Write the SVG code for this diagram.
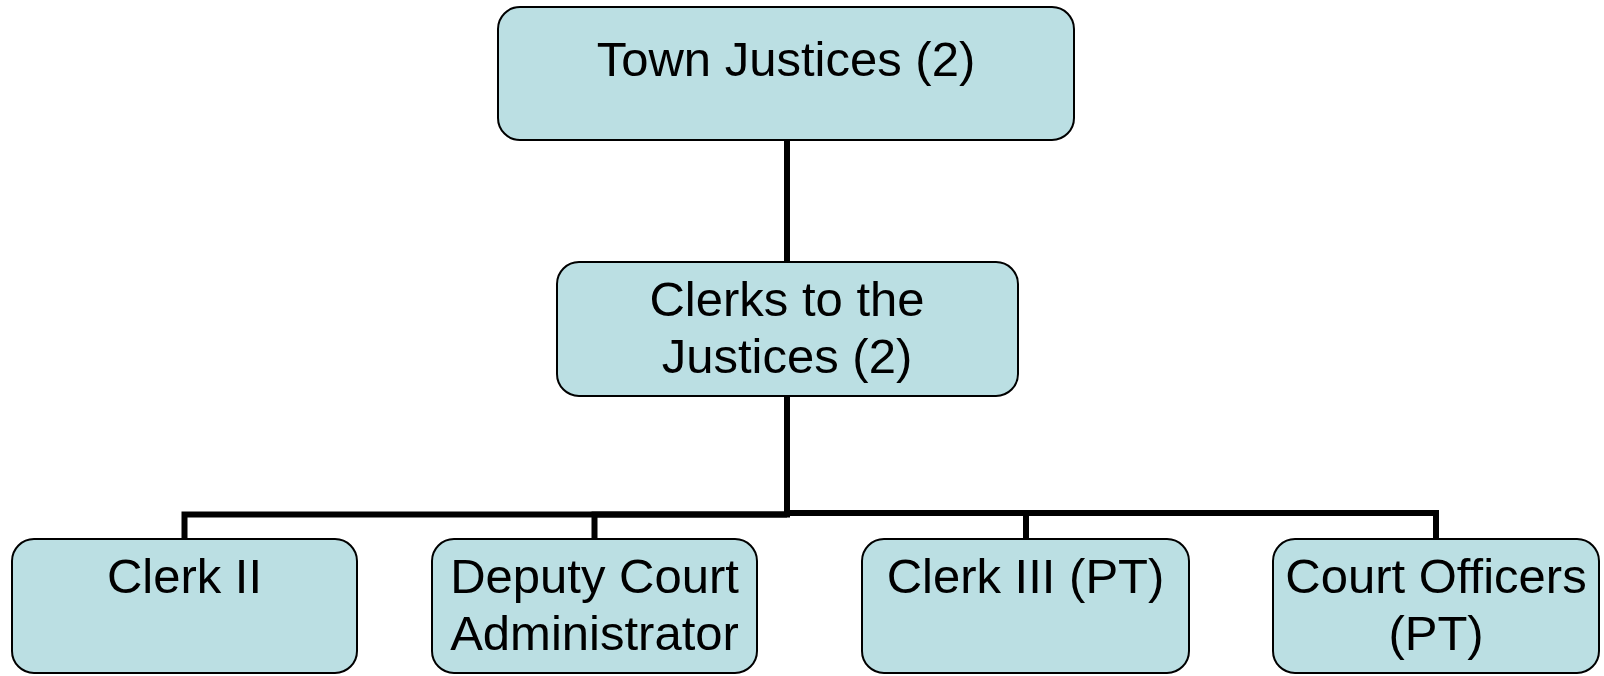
<svg xmlns="http://www.w3.org/2000/svg" width="1604" height="676" viewBox="0 0 1604 676">
  <style>
    .box { fill: #BBDFE3; stroke: #000; stroke-width: 2; }
    .lbl { font-family: "Liberation Sans", Arial, sans-serif; font-size: 49px; fill: #000; text-anchor: middle; }
    .wire { fill: none; stroke: #000; stroke-width: 6; stroke-linejoin: miter; }
  </style>
  <rect width="1604" height="676" fill="#fff"/>

  <!-- reporting lines -->
  <g id="connectors">
    <path class="wire" d="M787 140 V262"/>
    <path class="wire" d="M787 396 V514.5 H184.5 V539"/>
    <path class="wire" d="M787 514.5 H594.5 V539"/>
    <path class="wire" d="M787 396 V513 H1026 V539"/>
    <path class="wire" d="M1026 513 H1436 V539"/>
  </g>

  <g id="town-justices">
    <rect class="box" x="498" y="7" width="576" height="133" rx="22"/>
    <text class="lbl" x="786" y="76">Town Justices (2)</text>
  </g>

  <g id="clerks-to-justices">
    <rect class="box" x="557" y="262" width="461" height="134" rx="22"/>
    <text class="lbl" x="787" y="316">Clerks to the</text>
    <text class="lbl" x="787" y="373">Justices (2)</text>
  </g>

  <g id="clerk-ii">
    <rect class="box" x="12" y="539" width="345" height="134" rx="22"/>
    <text class="lbl" x="184.5" y="593">Clerk II</text>
  </g>

  <g id="deputy-court-administrator">
    <rect class="box" x="432" y="539" width="325" height="134" rx="22"/>
    <text class="lbl" x="594.5" y="593">Deputy Court</text>
    <text class="lbl" x="594.5" y="650">Administrator</text>
  </g>

  <g id="clerk-iii">
    <rect class="box" x="862" y="539" width="327" height="134" rx="22"/>
    <text class="lbl" x="1025.5" y="593">Clerk III (PT)</text>
  </g>

  <g id="court-officers">
    <rect class="box" x="1273" y="539" width="326" height="134" rx="22"/>
    <text class="lbl" x="1436" y="593">Court Officers</text>
    <text class="lbl" x="1436" y="650">(PT)</text>
  </g>
</svg>
